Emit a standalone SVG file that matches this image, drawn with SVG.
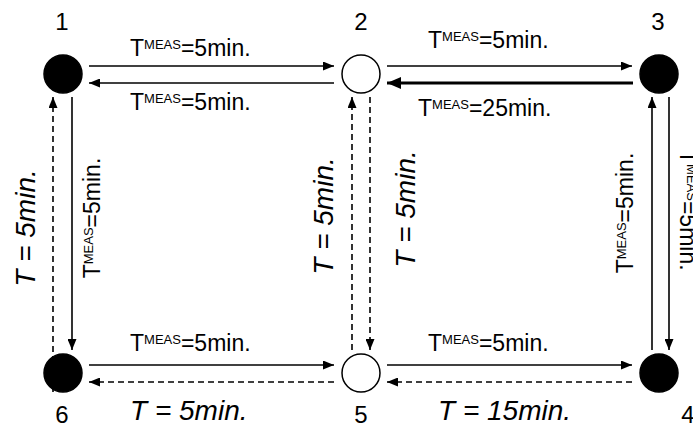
<svg xmlns="http://www.w3.org/2000/svg" width="693" height="426" viewBox="0 0 693 426">
<defs>
<marker id="ah" markerUnits="userSpaceOnUse" markerWidth="11" markerHeight="9" refX="11" refY="4.5" orient="auto"><path d="M0,0 L11,4.5 L0,9 z" fill="#000"/></marker>
<marker id="ahb" markerUnits="userSpaceOnUse" markerWidth="14" markerHeight="12" refX="14" refY="6" orient="auto"><path d="M0,0 L14,6 L0,12 z" fill="#000"/></marker>
<style>
text{font-family:"Liberation Sans",Arial,sans-serif;fill:#000}
.num{font-size:24px;text-anchor:middle}
.lbl{font-size:23px}
.sup{font-size:13px}
.it{font-size:28px;font-style:italic}
.ln{stroke:#000;stroke-width:1.6;fill:none;marker-end:url(#ah)}
.d{stroke-dasharray:6,4}
.thick{stroke:#000;stroke-width:3.2;fill:none;marker-end:url(#ahb)}
.full{fill:#000;stroke:#000;stroke-width:1.5}
.open{fill:#fff;stroke:#000;stroke-width:1.5}
</style>
</defs>
<rect width="693" height="426" fill="#fff"/>
<g id="connectors">
<line class="ln" x1="89" y1="66" x2="334" y2="66"/>
<line class="ln" x1="334" y1="83" x2="89" y2="83"/>
<line class="ln" x1="387" y1="66" x2="632" y2="66"/>
<line class="thick" x1="633" y1="83" x2="387" y2="83"/>
<line class="ln" x1="89" y1="365" x2="334" y2="365"/>
<line class="ln d" x1="334" y1="382" x2="89" y2="382"/>
<line class="ln" x1="387" y1="365" x2="632" y2="365"/>
<line class="ln d" x1="632" y1="382" x2="387" y2="382"/>
<line class="ln d" x1="53" y1="392" x2="53" y2="97"/>
<line class="ln" x1="72" y1="97" x2="72" y2="350"/>
<line class="ln d" x1="352" y1="350" x2="352" y2="97"/>
<line class="ln d" x1="370" y1="97" x2="370" y2="350"/>
<line class="ln" x1="652" y1="350" x2="652" y2="97"/>
<line class="ln" x1="669" y1="97" x2="669" y2="350"/>
</g>
<g id="edge-labels">
<text class="lbl" x="130" y="56">T<tspan class="sup" dy="-7">MEAS</tspan><tspan dy="7">=5min.</tspan></text>
<text class="lbl" x="130" y="110">T<tspan class="sup" dy="-7">MEAS</tspan><tspan dy="7">=5min.</tspan></text>
<text class="lbl" x="428" y="48">T<tspan class="sup" dy="-7">MEAS</tspan><tspan dy="7">=5min.</tspan></text>
<text class="lbl" x="418" y="116">T<tspan class="sup" dy="-7">MEAS</tspan><tspan dy="7">=25min.</tspan></text>
<text class="lbl" x="130" y="351">T<tspan class="sup" dy="-7">MEAS</tspan><tspan dy="7">=5min.</tspan></text>
<text class="lbl" x="428" y="351">T<tspan class="sup" dy="-7">MEAS</tspan><tspan dy="7">=5min.</tspan></text>
<text class="it" x="130" y="420">T = 5min.</text>
<text class="it" x="438" y="420">T = 15min.</text>
<text class="it" transform="translate(35,228) rotate(-90)" text-anchor="middle">T = 5min.</text>
<text class="lbl" transform="translate(100,218) rotate(-90)" text-anchor="middle">T<tspan class="sup" dy="-7">MEAS</tspan><tspan dy="7">=5min.</tspan></text>
<text class="it" transform="translate(333,216) rotate(-90)" text-anchor="middle">T = 5min.</text>
<text class="it" transform="translate(415,209) rotate(-90)" text-anchor="middle">T = 5min.</text>
<text class="lbl" transform="translate(633,213) rotate(-90)" text-anchor="middle">T<tspan class="sup" dy="-7">MEAS</tspan><tspan dy="7">=5min.</tspan></text>
<text class="lbl" transform="translate(680,150) rotate(90)">T<tspan class="sup" dy="-7">MEAS</tspan><tspan dy="7">=5min.</tspan></text>
</g>
<g id="node1"><circle class="full" cx="63" cy="74" r="19"/><text class="num" x="62" y="30">1</text></g>
<g id="node2"><circle class="open" cx="361" cy="74" r="19"/><text class="num" x="361" y="30">2</text></g>
<g id="node3"><circle class="full" cx="659" cy="74" r="19"/><text class="num" x="658" y="30">3</text></g>
<g id="node4"><circle class="full" cx="659" cy="373" r="19"/><text class="num" x="688" y="423">4</text></g>
<g id="node5"><circle class="open" cx="361" cy="373" r="19"/><text class="num" x="361" y="423">5</text></g>
<g id="node6"><circle class="full" cx="63" cy="373" r="19"/><text class="num" x="62" y="423">6</text></g>
</svg>
